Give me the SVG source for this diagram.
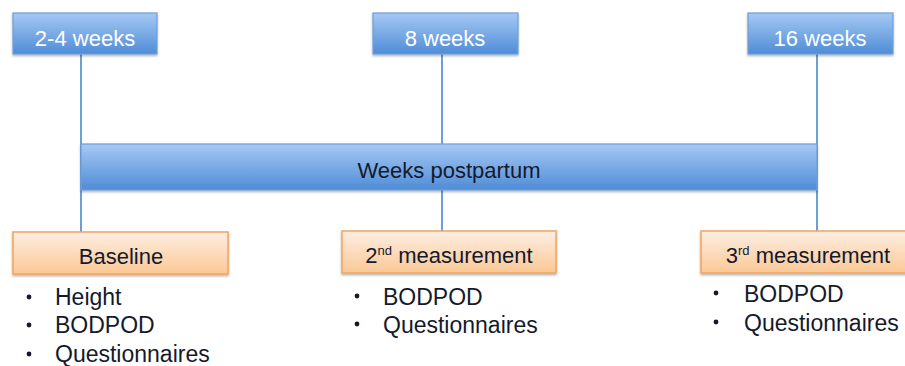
<svg xmlns="http://www.w3.org/2000/svg" width="905" height="366" viewBox="0 0 905 366">
  <defs>
    <linearGradient id="blueFill" x1="0" y1="0" x2="0" y2="1">
      <stop offset="0" stop-color="#a6c9f5"/>
      <stop offset="1" stop-color="#4f8cd6"/>
    </linearGradient>
    <linearGradient id="orangeFill" x1="0" y1="0" x2="0" y2="1">
      <stop offset="0" stop-color="#fdeee2"/>
      <stop offset="1" stop-color="#fbc895"/>
    </linearGradient>
    <filter id="shadow" x="-5%" y="-20%" width="110%" height="150%">
      <feDropShadow dx="0" dy="1.5" stdDeviation="1.2" flood-color="#000" flood-opacity="0.3"/>
    </filter>
  </defs>
  <style>
    .blue { fill: url(#blueFill); stroke: #6e9ed6; stroke-width: 1.2; filter: url(#shadow); }
    .orange { fill: url(#orangeFill); stroke: #f5a35c; stroke-width: 1.5; filter: url(#shadow); }
    .link { stroke: #6d9fd6; stroke-width: 2; fill: none; }
    text { font-family: "Liberation Sans", Arial, sans-serif; font-size: 22px; }
    .white { fill: #ffffff; text-anchor: middle; }
    .dark { fill: #141a2c; }
    .mid { text-anchor: middle; }
    .item { font-size: 23px; }
    .sup { font-size: 13px; }
  </style>

  <!-- vertical connectors, drawn behind the timeline bar -->
  <g id="connectors">
    <line class="link" x1="81" y1="54" x2="81" y2="232"/>
    <line class="link" x1="442" y1="54" x2="442" y2="231"/>
    <line class="link" x1="817" y1="54" x2="817" y2="231"/>
  </g>

  <!-- timeline bar -->
  <g id="timeline">
    <rect class="blue" x="81" y="144" width="736" height="46"/>
    <text class="dark mid" x="449" y="178">Weeks postpartum</text>
  </g>

  <!-- time points -->
  <g id="t-2-4">
    <rect class="blue" x="13" y="13" width="144" height="41"/>
    <text class="white" x="85" y="46">2-4 weeks</text>
  </g>
  <g id="t-8">
    <rect class="blue" x="373" y="13" width="145" height="41"/>
    <text class="white" x="445" y="46">8 weeks</text>
  </g>
  <g id="t-16">
    <rect class="blue" x="748" y="13" width="145" height="41"/>
    <text class="white" x="820" y="46">16 weeks</text>
  </g>

  <!-- measurements -->
  <g id="baseline">
    <rect class="orange" x="13" y="232" width="215" height="42"/>
    <text class="dark mid" x="121" y="264">Baseline</text>
    <g class="dark">
      <circle cx="29" cy="297" r="2.4"/>
      <circle cx="29" cy="325" r="2.4"/>
      <circle cx="29" cy="354" r="2.4"/>
    </g>
    <text class="dark item" x="55" y="305">Height</text>
    <text class="dark item" x="55" y="333">BODPOD</text>
    <text class="dark item" x="55" y="362">Questionnaires</text>
  </g>

  <g id="measurement-2">
    <rect class="orange" x="342" y="231" width="214" height="42"/>
    <text class="dark mid" x="449" y="263">2<tspan class="sup" dy="-8">nd</tspan><tspan dy="8"> measurement</tspan></text>
    <g class="dark">
      <circle cx="357" cy="296" r="2.4"/>
      <circle cx="357" cy="324" r="2.4"/>
    </g>
    <text class="dark item" x="383" y="305">BODPOD</text>
    <text class="dark item" x="383" y="333">Questionnaires</text>
  </g>

  <g id="measurement-3">
    <rect class="orange" x="701" y="231" width="216" height="42"/>
    <text class="dark mid" x="808" y="263">3<tspan class="sup" dy="-8">rd</tspan><tspan dy="8"> measurement</tspan></text>
    <g class="dark">
      <circle cx="716" cy="293" r="2.4"/>
      <circle cx="716" cy="322" r="2.4"/>
    </g>
    <text class="dark item" x="744" y="302">BODPOD</text>
    <text class="dark item" x="744" y="331">Questionnaires</text>
  </g>
</svg>
